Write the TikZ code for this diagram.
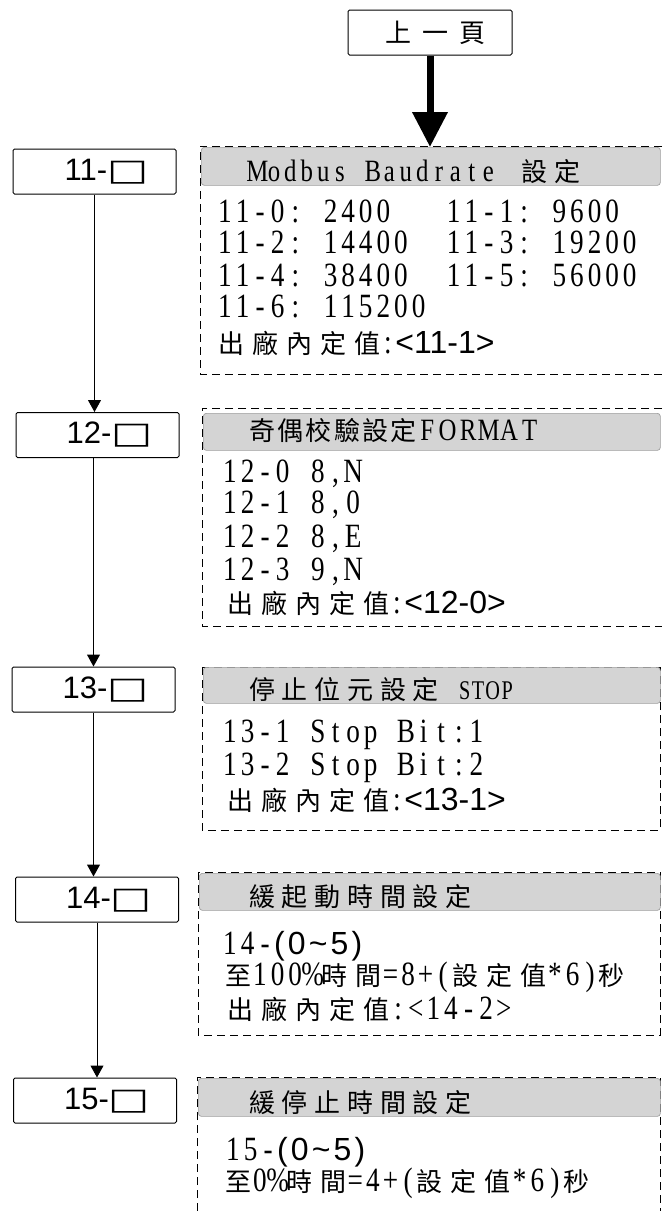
\documentclass[tikz,border=0pt]{standalone}
\usepackage{fontspec}
\usetikzlibrary{arrows.meta}
\newfontfamily\cjkTop[LetterSpace=42]{Noto Sans CJK TC}
\newfontfamily\cjkHead[LetterSpace=26]{Noto Sans CJK TC}
\newfontfamily\cjkHeadn[LetterSpace=9]{Noto Sans CJK TC}
\newfontfamily\cjkBody[LetterSpace=31]{Noto Sans CJK TC}
\newfontfamily\latBody[FakeStretch=0.8]{Liberation Serif}
\newfontfamily\latHeadm[FakeStretch=0.8]{Liberation Serif}
\newfontfamily\latHeadt[FakeStretch=0.75,LetterSpace=6]{Liberation Serif}
\newfontfamily\sansA{Liberation Sans}
\newfontfamily\sansB[LetterSpace=10]{Liberation Sans}
\newfontfamily\sqfont[FakeStretch=1.45]{DejaVu Sans}
\newlength\monowd
\newcommand\monoseq[2]{\setlength\monowd{#1}\monoloop#2\relax}
\def\monoloop#1{\ifx\relax#1\else\makebox[\monowd][c]{#1}\expandafter\monoloop\fi}
\newcommand\ctxt[1]{{\fontsize{26}{26}\cjkBody #1}}
\newcommand\ltxt[1]{{\fontsize{34}{34}\latBody\monoseq{17.6pt}{#1}}}
\newcommand\stxt[1]{{\fontsize{32}{32}\sansA #1}}
\newcommand\sbtxt[1]{{\fontsize{32}{32}\sansB #1}}
\newcommand\hctxt[1]{{\fontsize{26}{26}\cjkHead #1}}
\newcommand\hcntxt[1]{{\fontsize{26}{26}\cjkHeadn #1}}
\newcommand\hlmtxt[2]{{\fontsize{31}{31}\latHeadm\monoseq{#1}{#2}}}
\newcommand\hlttxt[1]{{\fontsize{27}{27}\latHeadt #1}}
\newcommand\sqbox{{\fontsize{30}{30}\sqfont □}}
\newcommand\boxlbl[1]{\hspace*{24pt}{\fontsize{31}{31}\sansA #1}\sqbox}
\newcommand\colcell{{\fontsize{34}{34}\latBody\monoseq{15pt}{:}}}
\begin{document}
\begin{tikzpicture}[x=1pt,y=-1pt,
  lbox/.style={draw, line width=1pt, rounded corners=1.5pt, minimum width=163pt, minimum height=45pt, inner sep=0pt},
  topbox/.style={draw, line width=1pt, rounded corners=1.5pt, minimum width=164pt, minimum height=45pt, inner sep=0pt},
  hdr/.style={fill=black!17, draw=black!38, line width=0.7pt, rounded corners=3pt, anchor=north west, inner sep=0pt, minimum height=37pt},
  dbox/.style={line width=1pt, dash pattern=on 8pt off 5pt},
  txt/.style={anchor=base west, inner sep=0pt},
  flow/.style={-{Triangle[width=13pt,length=12pt]}, line width=1pt},
  bigarrow/.style={-{Triangle[width=34pt,length=35pt]}, line width=7pt}]
\useasboundingbox (0,0) rectangle (662,1211);

% top
\node[topbox] (top) at (430,32.5) {\hspace*{11pt}{\fontsize{26}{26}\cjkTop 上一頁}};
\coordinate (in11) at (430,147);
\draw[bigarrow] (top.south) -- (in11);

% left boxes
\node[lbox] (b11) at (94.5,171.5) {\boxlbl{11-}};
\node[lbox] (b12) at (97.5,435) {\boxlbl{12-}};
\node[lbox] (b13) at (93.5,689.5) {\boxlbl{13-}};
\node[lbox] (b14) at (97,899.5) {\boxlbl{14-}};
\node[lbox] (b15) at (95,1100.5) {\boxlbl{15-}};

\draw[flow] (b11.south) -- (b11.south |- b12.north);
\draw[flow] (b12.south -| b13) -- (b13.north);
\draw[flow] (b13.south) -- (b13.south |- b14.north);
\draw[flow] (b14.south) -- (b14.south |- b15.north);

% dashed frames
\draw[dbox] (662,146) -- (200,146) -- (200,374) -- (662,374);
\draw[dbox] (662,408) -- (202,408) -- (202,626) -- (662,626);
\draw[dbox] (202,667) rectangle (660,830);
\draw[dbox] (198,872) rectangle (660,1035);
\draw[dbox] (197,1211) -- (197,1077) -- (660,1077) -- (660,1211);

% headers
\node[hdr, minimum width=459pt, minimum height=38pt] (h11) at (201,147) {};
\node[hdr, minimum width=457pt] (h12) at (203,413) {};
\node[hdr, minimum width=457pt, minimum height=36pt] (h13) at (203,667) {};
\node[hdr, minimum width=461pt] (h14) at (199,873) {};
\node[hdr, minimum width=462pt, minimum height=38pt] (h15) at (198,1078) {};

\node[txt] (t11) at (249,181) {\hlmtxt{16.5pt}{Modbus\ Baudrate}\hspace{25pt}\hctxt{設定}};
\node[txt] (t12) at (249,440) {\hcntxt{奇偶校驗設定}\hlmtxt{20.5pt}{FORMAT}};
\node[txt] (t13) at (249,699) {\hctxt{停止位元設定}\hspace{20pt}\hlttxt{STOP}};
\node[txt] (t14) at (249,906) {\hctxt{緩起動時間設定}};
\node[txt] (t15) at (249,1112) {\hctxt{緩停止時間設定}};

% row 11 content
\node[txt] (a1) at (216,222) {\ltxt{11-0:\ 2400\ \ \ 11-1:\ 9600}};
\node[txt] (a2) at (216,253) {\ltxt{11-2:\ 14400\ \ 11-3:\ 19200}};
\node[txt] (a3) at (216,286) {\ltxt{11-4:\ 38400\ \ 11-5:\ 56000}};
\node[txt] (a4) at (216,317) {\ltxt{11-6:\ 115200}};
\node[txt] (a5) at (218,353) {\ctxt{出廠內定值}\colcell\stxt{<11-1>}};

% row 12 content
\node[txt] (c1) at (221,482) {\ltxt{12-0\ 8,N}};
\node[txt] (c2) at (221,513) {\ltxt{12-1\ 8,0}};
\node[txt] (c3) at (221,547) {\ltxt{12-2\ 8,E}};
\node[txt] (c4) at (221,580) {\ltxt{12-3\ 9,N}};
\node[txt] (c5) at (227,613) {\ctxt{出廠內定值}\colcell\stxt{<12-0>}};

% row 13 content
\node[txt] (d1) at (221,742) {\ltxt{13-1\ Stop\ Bit:1}};
\node[txt] (d2) at (221,775) {\ltxt{13-2\ Stop\ Bit:2}};
\node[txt] (d3) at (227,810) {\ctxt{出廠內定值}\colcell\stxt{<13-1>}};

% row 14 content
\node[txt] (e1) at (221,954) {\ltxt{14-}\sbtxt{(0\textasciitilde 5)}};
\node[txt] (e2) at (225,985) {\ctxt{至}\ltxt{100\%}\ctxt{時間}\ltxt{=8+(}\ctxt{設定值}\ltxt{*6)}\ctxt{秒}};
\node[txt] (e3) at (227,1019) {\ctxt{出廠內定值}\ltxt{:<14-2>}};

% row 15 content
\node[txt] (f1) at (224,1160) {\ltxt{15-}\sbtxt{(0\textasciitilde 5)}};
\node[txt] (f2) at (225,1191) {\ctxt{至}\ltxt{0\%}\ctxt{時間}\ltxt{=4+(}\ctxt{設定值}\ltxt{*6)}\ctxt{秒}};
\end{tikzpicture}
\end{document}
